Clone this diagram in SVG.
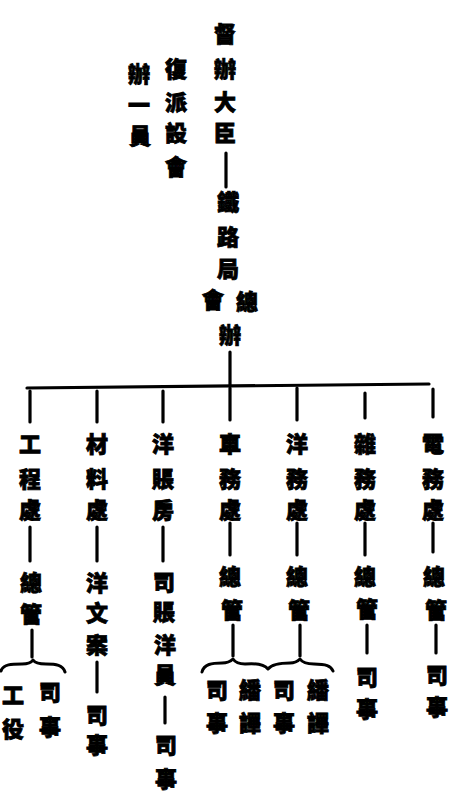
<svg xmlns="http://www.w3.org/2000/svg" width="456" height="804" viewBox="0 0 456 804">
<style>
text{font-family:"Noto Sans CJK TC","Noto Sans CJK SC",sans-serif;font-size:22px;font-weight:900;fill:#000;stroke:#000;stroke-width:0.8;text-anchor:middle;dominant-baseline:central}
.ln{stroke:#000;stroke-width:3.2;fill:none;stroke-linecap:round}
.br{stroke:#000;stroke-width:3;fill:none;stroke-linecap:round;stroke-linejoin:round}
</style>
<rect width="456" height="804" fill="#fff"/>
<g id="connectors">
<line class="ln" x1="226" y1="153" x2="226" y2="187"/>
<line class="ln" x1="230" y1="352" x2="230" y2="386"/>
<path class="ln" d="M27,388 L429,384"/>
<line class="ln" x1="30" y1="391" x2="30" y2="422"/>
<line class="ln" x1="97" y1="391" x2="97" y2="422"/>
<line class="ln" x1="163" y1="391" x2="163" y2="422"/>
<line class="ln" x1="230" y1="388" x2="230" y2="420"/>
<line class="ln" x1="297" y1="388" x2="297" y2="420"/>
<line class="ln" x1="365" y1="393" x2="365" y2="418"/>
<line class="ln" x1="433" y1="389" x2="433" y2="417"/>
<line class="ln" x1="30" y1="527" x2="30" y2="561"/>
<line class="ln" x1="97" y1="527" x2="97" y2="561"/>
<line class="ln" x1="163" y1="527" x2="163" y2="561"/>
<line class="ln" x1="230" y1="523" x2="230" y2="555"/>
<line class="ln" x1="297" y1="523" x2="297" y2="555"/>
<line class="ln" x1="365" y1="523" x2="365" y2="555"/>
<line class="ln" x1="433" y1="523" x2="433" y2="552"/>
<line class="ln" x1="32" y1="630" x2="32" y2="657"/>
<line class="ln" x1="97" y1="662" x2="97" y2="692"/>
<line class="ln" x1="165" y1="697" x2="165" y2="723"/>
<line class="ln" x1="233" y1="625" x2="233" y2="656"/>
<line class="ln" x1="300" y1="625" x2="300" y2="656"/>
<line class="ln" x1="367" y1="625" x2="367" y2="653"/>
<line class="ln" x1="436" y1="625" x2="436" y2="653"/>
<path class="br" d="M1,671 C3,664 12,664 22,664 C28,664 31,663 33,660 C35,663 39,664 46,664 C56,664 63,665 65,672"/>
<path class="br" d="M202,672 C204,664 212,663 222,663 C228,663 231,661 233,659 C235,662 238,664 245,664 C256,663 264,664 268,669 C272,664 280,663 290,663 C295,663 298,661 300,659 C302,662 306,664 314,664 C326,664 331,666 333,671"/>
</g>
<g id="dubandachen"><text x="225" y="32">督</text><text x="225" y="67">辦</text><text x="225" y="100">大</text><text x="225" y="131">臣</text></g>
<g id="note"><text x="176" y="67">復</text><text x="176" y="100">派</text><text x="176" y="131">設</text><text x="176" y="165">會</text><text x="139" y="72">辦</text><text x="139" y="103">一</text><text x="140" y="134">員</text></g>
<g id="tieluju"><text x="228" y="200">鐵</text><text x="228" y="235">路</text><text x="228" y="267">局</text><text x="213" y="298">會</text><text x="247" y="300">總</text><text x="230" y="333">辦</text></g>
<g id="gongchengchu"><text x="30" y="442">工</text><text x="30" y="477">程</text><text x="30" y="508">處</text><text x="31" y="581">總</text><text x="31" y="612">管</text></g>
<g id="gongchengchu-sub"><text x="13" y="693">工</text><text x="13" y="727">役</text><text x="50" y="690">司</text><text x="50" y="725">事</text></g>
<g id="cailiaochu"><text x="97" y="442">材</text><text x="97" y="477">料</text><text x="97" y="508">處</text><text x="97" y="581">洋</text><text x="97" y="611">文</text><text x="97" y="643">案</text></g>
<g id="cailiaochu-sub"><text x="97" y="713">司</text><text x="97" y="743">事</text></g>
<g id="yangzhangfang"><text x="163" y="442">洋</text><text x="163" y="477">賬</text><text x="163" y="508">房</text><text x="164" y="580">司</text><text x="164" y="610">賬</text><text x="165" y="643">洋</text><text x="165" y="673">員</text></g>
<g id="yangzhangfang-sub"><text x="166" y="743">司</text><text x="166" y="777">事</text></g>
<g id="chewuchu"><text x="230" y="442">車</text><text x="230" y="477">務</text><text x="230" y="508">處</text><text x="230" y="575">總</text><text x="232" y="608">管</text></g>
<g id="chewuchu-sub"><text x="217" y="688">司</text><text x="217" y="721">事</text><text x="250" y="688">繙</text><text x="250" y="721">譯</text></g>
<g id="yangwuchu"><text x="297" y="442">洋</text><text x="297" y="477">務</text><text x="297" y="508">處</text><text x="297" y="575">總</text><text x="299" y="608">管</text></g>
<g id="yangwuchu-sub"><text x="284" y="688">司</text><text x="284" y="721">事</text><text x="318" y="688">繙</text><text x="318" y="721">譯</text></g>
<g id="zawuchu"><text x="365" y="442">雜</text><text x="365" y="477">務</text><text x="365" y="508">處</text><text x="365" y="575">總</text><text x="367" y="607">管</text></g>
<g id="zawuchu-sub"><text x="367" y="675">司</text><text x="367" y="707">事</text></g>
<g id="dianwuchu"><text x="433" y="442">電</text><text x="433" y="477">務</text><text x="433" y="508">處</text><text x="434" y="575">總</text><text x="436" y="608">管</text></g>
<g id="dianwuchu-sub"><text x="437" y="673">司</text><text x="437" y="705">事</text></g>
</svg>
